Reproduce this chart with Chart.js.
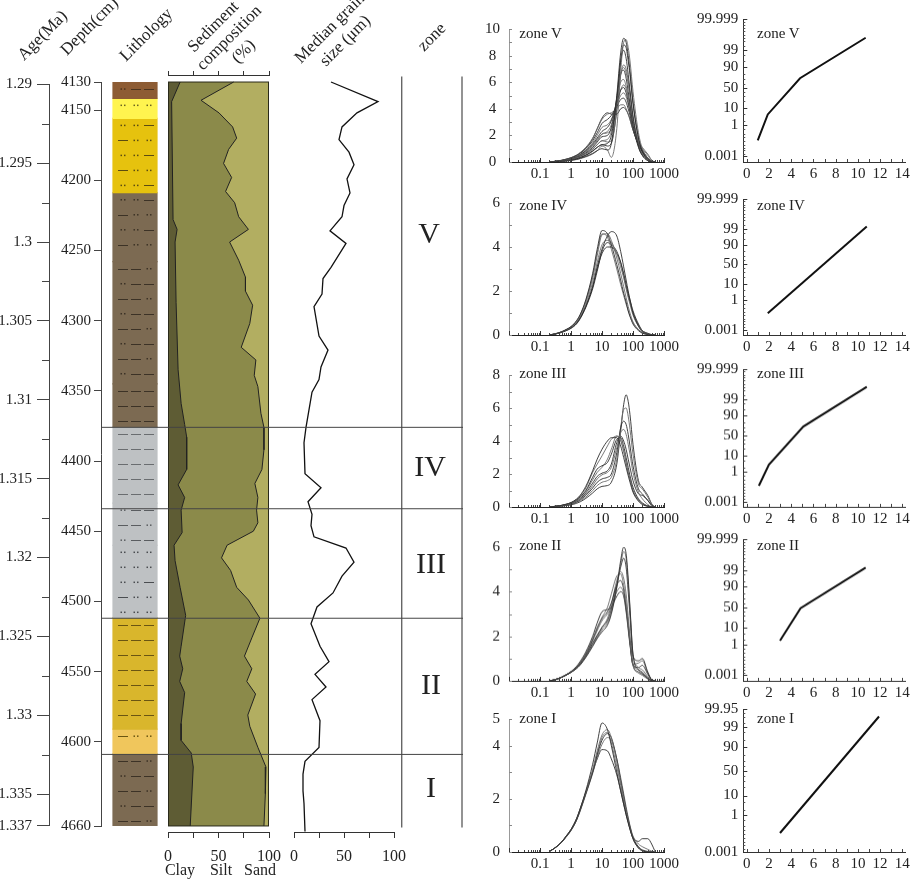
<!DOCTYPE html>
<html>
<head>
<meta charset="utf-8">
<script src="https://cdn.jsdelivr.net/npm/chart.js@4.4.1/dist/chart.umd.min.js"></script>
<style>
  html, body { margin: 0; padding: 0; background: #fff; }
  #page { position: relative; width: 913px; height: 880px; overflow: hidden;
          font-family: "Liberation Serif", "Times New Roman", serif; color: #222; }
  canvas { position: absolute; }
  .t { position: absolute; white-space: nowrap; line-height: 1; }
  .rot { transform-origin: 0 100%; transform: rotate(-45deg); font-size: 17px; }
  .zone { font-size: 30px; transform: translate(-50%, -50%); }
  .panel { font-size: 15px; transform: translateY(-50%); }
  .foot { font-size: 16px; transform: translate(-50%, -50%); }
</style>
</head>
<body>
<div id="page"></div>
<script>
// ---------- data ----------
const ageTicks = [1.29, 1.295, 1.3, 1.305, 1.31, 1.315, 1.32, 1.325, 1.33, 1.335, 1.337];
const ageMinor = [1.2925, 1.2975, 1.3025, 1.3075, 1.3125, 1.3175, 1.3225, 1.3275, 1.3325];
const depthTicks = [4130, 4150, 4200, 4250, 4300, 4350, 4400, 4450, 4500, 4550, 4600, 4660];

const lithTop    = [4130, 4141.6, 4155.9, 4208.9, 4258, 4345, 4375.6, 4430, 4460, 4511.6, 4591, 4608.7];
const lithBottom = [4141.6, 4155.9, 4208.9, 4258, 4345, 4375.6, 4430, 4460, 4511.6, 4591, 4608.7, 4660];
const lithType   = ['A', 'B', 'C', 'D', 'E', 'F', 'G', 'H', 'I', 'J', 'K', 'E'];

const clayDepth = [4130, 4144, 4228, 4235, 4244, 4287, 4335, 4359, 4374, 4383, 4406, 4417, 4426, 4435, 4451,
  4460, 4471, 4490, 4510, 4532, 4539, 4548, 4557, 4565, 4587, 4599, 4608, 4618, 4660];
const clayPct = [12, 3.6, 5, 9, 7, 8, 10, 13, 16.5, 18.5, 18.5, 10, 16.5, 13, 14,
  6, 7, 12, 17.5, 13, 11.6, 14.6, 11.6, 16.5, 13, 13, 23, 25, 22];

const siltDepth = [4130, 4143, 4152, 4162, 4170, 4178, 4188, 4198, 4208, 4216, 4226, 4235, 4244, 4257, 4269, 4279,
  4289, 4302, 4319, 4328, 4339, 4347, 4366, 4376, 4392, 4406, 4416, 4426, 4435, 4444, 4450, 4460, 4469, 4478,
  4490, 4499, 4512, 4526, 4539, 4548, 4557, 4566, 4581, 4589, 4604, 4618, 4637, 4660];
const claySiltPct = [65, 32.7, 50.5, 64, 68, 60, 55, 63, 57, 66, 70, 79.6, 61, 70, 76.7, 76.7,
  83.8, 81, 72.5, 87, 85.4, 89, 92, 95, 95, 93, 86, 89, 87.7, 89, 84.5, 58.5, 53, 62,
  68, 79.6, 91, 83, 75.7, 83, 78, 86.7, 79, 81, 89, 97, 96.4, 95];
const sandDepth = [4130, 4660];
const sandPct = [100, 100];

const grainDepth = [4130, 4144, 4152, 4162, 4171, 4180, 4189, 4199, 4209, 4218, 4226, 4236, 4245, 4262, 4270, 4281,
  4290, 4311, 4321, 4333, 4342, 4351, 4376, 4387, 4409, 4419, 4429, 4438, 4446, 4454, 4462, 4472, 4482, 4494,
  4504, 4516, 4532, 4543, 4552, 4561, 4570, 4585, 4604, 4614, 4623, 4635, 4644, 4664];
const grainSize = [37, 84, 63, 48, 45, 55, 60, 53, 56, 50, 48, 36, 52, 37, 29, 28,
  20, 25, 34, 27, 25, 18, 12, 10, 11, 27, 14, 18, 17, 20, 52, 60, 48, 39,
  23, 17, 26, 35, 21, 32, 18, 26, 25, 11, 9, 9, 10, 11];

const zoneBounds = [4376, 4434, 4512, 4609];
const zoneColumnDepth = [4126, 4661];
const zoneNames = ['V', 'IV', 'III', 'II', 'I'];

// grain size distributions (um vs %)
const sizeGrid = [0.2, 0.3, 0.5, 0.7, 1, 1.5, 2, 3, 5, 7, 10, 15, 20, 30, 40, 50, 60, 70, 80, 100, 150, 200, 300, 400, 500];
const freqV = [
  [0, .02, .05, .08, .12, .2, .28, .42, .65, .85, 1.0, 0.9, 1.4, 5.0, 8.2, 9.3, 9.0, 8.0, 6.8, 4.5, 1.8, 0.8, 0.2, .03, 0],
  [0, .02, .05, .08, .12, .18, .25, .38, .6, .85, 1.2, 0.9, 0.35, 2.5, 6.8, 9.0, 9.2, 8.6, 7.6, 5.3, 2.2, 1.0, 0.3, .05, 0],
  [0, .02, .06, .1, .15, .24, .33, .5, .8, 1.1, 1.3, 1.4, 2.0, 4.8, 7.6, 8.4, 7.8, 6.6, 5.4, 3.4, 1.2, 0.5, 0.1, 0, 0],
  [0, .03, .07, .12, .18, .3, .4, .6, .95, 1.3, 1.6, 1.7, 2.3, 4.6, 6.6, 7.1, 6.7, 5.8, 4.9, 3.2, 1.3, 0.6, .15, .02, 0],
  [0, .03, .08, .13, .2, .33, .45, .68, 1.1, 1.5, 1.9, 2.0, 2.6, 4.8, 6.6, 6.9, 6.3, 5.3, 4.4, 2.8, 1.1, 0.5, 0.1, 0, 0],
  [0, .03, .08, .14, .22, .36, .5, .75, 1.2, 1.6, 2.1, 2.3, 2.8, 4.6, 6.0, 6.2, 5.7, 4.9, 4.1, 2.7, 1.2, 0.6, 0.2, .04, 0],
  [0, .04, .1, .16, .25, .4, .55, .85, 1.35, 1.8, 2.3, 2.6, 3.1, 4.5, 5.4, 5.6, 5.2, 4.5, 3.8, 2.6, 1.3, 0.8, 0.3, .05, 0],
  [0, .04, .1, .17, .26, .42, .58, .9, 1.45, 2.0, 2.6, 2.8, 3.2, 4.3, 5.0, 5.2, 4.9, 4.3, 3.7, 2.6, 1.4, 1.0, 0.5, 0.1, 0],
  [0, .05, .12, .2, .3, .48, .65, 1.0, 1.6, 2.2, 2.9, 3.2, 3.5, 4.2, 4.7, 4.8, 4.5, 4.0, 3.5, 2.5, 1.3, 0.8, 0.3, .05, 0],
  [0, .05, .13, .22, .33, .52, .72, 1.1, 1.8, 2.5, 3.2, 3.6, 3.7, 4.0, 4.3, 4.3, 4.0, 3.6, 3.2, 2.4, 1.3, 0.7, 0.2, .03, 0],
  [0, .05, .13, .21, .32, .5, .7, 1.05, 1.75, 2.5, 3.3, 3.7, 3.6, 3.6, 4.0, 4.1, 3.9, 3.6, 3.2, 2.4, 1.4, 0.9, 0.3, .05, 0],
  [0, .03, .07, .12, .18, .3, .42, .62, 1.0, 1.3, 1.6, 1.5, 1.6, 3.8, 6.5, 7.3, 7.0, 6.1, 5.2, 3.5, 1.5, 0.7, 0.2, .03, 0],
  [0, .02, .06, .1, .15, .25, .35, .52, .85, 1.1, 1.3, 1.2, 1.4, 4.0, 7.5, 8.8, 8.6, 7.6, 6.6, 4.4, 1.8, 0.8, 0.2, .03, 0],
  [0, .04, .09, .15, .23, .37, .52, .8, 1.25, 1.7, 2.1, 2.2, 2.5, 4.1, 5.4, 5.8, 5.5, 4.8, 4.2, 3.0, 1.6, 1.1, 0.6, .15, 0]
];
const freqIV = [
  [0, .05, .15, .25, .38, .65, .95, 1.6, 2.8, 3.9, 4.75, 4.6, 4.1, 3.2, 2.5, 1.9, 1.5, 1.1, .85, .5, .2, .08, .02, 0, 0],
  [0, .05, .14, .24, .36, .6, .9, 1.5, 2.6, 3.6, 4.55, 4.6, 4.3, 3.5, 2.8, 2.2, 1.7, 1.3, 1.0, .6, .25, .1, .03, 0, 0],
  [0, .04, .12, .2, .32, .52, .78, 1.3, 2.2, 3.1, 3.9, 4.5, 4.7, 4.5, 3.8, 3.1, 2.5, 2.0, 1.6, 1.0, .4, .15, .04, .01, 0],
  [0, .05, .14, .23, .35, .58, .85, 1.4, 2.4, 3.3, 4.1, 4.3, 4.2, 3.7, 3.1, 2.6, 2.1, 1.7, 1.4, .9, .4, .18, .05, .01, 0],
  [0, .04, .13, .22, .34, .55, .8, 1.3, 2.2, 3.0, 3.7, 4.0, 4.0, 3.7, 3.3, 2.8, 2.3, 1.9, 1.6, 1.1, .5, .2, .06, .01, 0],
  [0, .05, .15, .25, .38, .63, .92, 1.55, 2.7, 3.75, 4.6, 4.45, 3.9, 3.0, 2.3, 1.8, 1.4, 1.1, .85, .55, .25, .12, .04, .01, 0],
  [0, .04, .12, .2, .3, .5, .75, 1.25, 2.1, 2.9, 3.8, 4.2, 4.1, 3.8, 3.3, 2.7, 2.2, 1.8, 1.5, 1.0, .45, .2, .08, .02, 0]
];
const freqIII = [
  [0, .04, .1, .17, .27, .48, .72, 1.25, 2.2, 2.9, 3.5, 4.0, 4.2, 4.2, 3.7, 3.0, 2.4, 1.9, 1.5, .9, .35, .15, .04, 0, 0],
  [0, .04, .1, .17, .26, .45, .68, 1.15, 2.1, 2.6, 3.1, 3.7, 4.1, 4.3, 4.0, 3.4, 2.7, 2.1, 1.7, 1.0, .4, .2, .05, 0, 0],
  [0, .04, .1, .16, .25, .42, .62, 1.0, 1.8, 2.3, 2.5, 2.7, 3.2, 4.1, 4.2, 3.7, 3.0, 2.4, 1.9, 1.2, .5, .25, .06, 0, 0],
  [0, .03, .08, .13, .2, .33, .48, .75, 1.3, 1.7, 1.95, 2.1, 2.4, 3.6, 4.5, 4.7, 4.4, 3.8, 3.2, 2.1, .9, .5, .15, .02, 0],
  [0, .03, .07, .12, .18, .3, .44, .7, 1.15, 1.5, 1.7, 1.8, 2.0, 3.3, 4.8, 5.2, 5.0, 4.4, 3.7, 2.5, 1.1, .8, .4, .1, 0],
  [0, .02, .06, .1, .15, .26, .38, .6, 1.0, 1.3, 1.5, 1.6, 1.8, 2.9, 4.8, 5.9, 6.0, 5.5, 4.7, 3.2, 1.4, 1.1, .6, .15, 0],
  [0, .02, .05, .09, .13, .22, .32, .52, .85, 1.1, 1.25, 1.3, 1.5, 2.6, 4.6, 6.2, 6.8, 6.4, 5.6, 3.8, 1.6, 1.2, .7, .2, 0],
  [0, .03, .09, .15, .23, .4, .58, .95, 1.65, 2.1, 2.4, 2.9, 3.5, 4.3, 4.1, 3.4, 2.7, 2.1, 1.7, 1.0, .45, .2, .05, 0, 0],
  [0, .03, .08, .14, .21, .36, .52, .85, 1.45, 1.85, 2.05, 2.2, 2.6, 3.9, 4.3, 4.0, 3.5, 2.9, 2.4, 1.6, .8, .7, .4, .1, 0]
];
const freqII = [
  [0, .05, .16, .26, .38, .55, .72, 1.05, 1.55, 1.9, 2.2, 2.5, 3.0, 4.2, 5.4, 6.0, 5.7, 4.6, 3.3, 1.2, .5, .35, .12, .02, 0],
  [0, .05, .16, .26, .38, .56, .74, 1.08, 1.6, 1.95, 2.3, 2.6, 3.1, 4.2, 5.2, 5.8, 5.5, 4.4, 3.2, 1.2, .6, .5, .2, .03, 0],
  [0, .05, .16, .26, .39, .58, .77, 1.12, 1.7, 2.05, 2.4, 2.7, 3.2, 4.3, 5.1, 5.5, 5.1, 4.0, 2.9, 1.1, .9, 1.0, .4, .05, 0],
  [0, .05, .17, .28, .41, .63, .85, 1.25, 1.9, 2.4, 2.85, 3.3, 3.9, 4.7, 4.8, 4.3, 3.5, 2.6, 1.8, .7, .35, .25, .08, 0, 0],
  [0, .05, .17, .28, .41, .62, .84, 1.22, 1.85, 2.35, 2.8, 3.1, 3.5, 4.3, 4.5, 4.1, 3.3, 2.5, 1.7, .7, .6, .7, .3, .05, 0],
  [0, .05, .16, .27, .4, .6, .8, 1.18, 1.8, 2.25, 2.7, 3.0, 3.3, 4.0, 4.2, 3.9, 3.2, 2.4, 1.7, .75, .8, .9, .35, .05, 0],
  [0, .05, .17, .28, .42, .65, .88, 1.3, 2.0, 2.6, 3.1, 3.2, 3.3, 3.8, 4.0, 3.8, 3.1, 2.3, 1.6, .7, .4, .3, .1, 0, 0],
  [0, .05, .16, .26, .39, .57, .76, 1.1, 1.65, 2.0, 2.4, 2.8, 3.4, 4.5, 4.9, 4.6, 3.9, 2.9, 2.0, .8, .5, .4, .15, .02, 0]
];
const freqI = [
  [.02, .15, .38, .6, .85, 1.25, 1.65, 2.3, 3.3, 4.1, 4.85, 4.6, 4.0, 3.0, 2.3, 1.8, 1.4, 1.1, .85, .5, .15, .05, 0, 0, 0],
  [.02, .15, .38, .6, .85, 1.25, 1.65, 2.25, 3.1, 3.8, 4.4, 4.6, 4.3, 3.4, 2.6, 2.0, 1.55, 1.2, .9, .5, .15, .05, 0, 0, 0],
  [.02, .15, .37, .58, .82, 1.2, 1.6, 2.2, 3.0, 3.65, 4.2, 4.45, 4.3, 3.5, 2.7, 2.1, 1.6, 1.25, .95, .55, .2, .08, .02, 0, 0],
  [.02, .14, .36, .56, .8, 1.18, 1.55, 2.15, 2.95, 3.55, 4.05, 4.3, 4.2, 3.5, 2.8, 2.2, 1.7, 1.3, 1.0, .6, .3, .2, .1, .03, 0],
  [.02, .15, .37, .58, .82, 1.2, 1.58, 2.2, 3.0, 3.5, 3.85, 3.8, 3.5, 2.9, 2.3, 1.8, 1.4, 1.1, .85, .55, .4, .5, .5, .3, .05],
  [.02, .15, .38, .6, .84, 1.23, 1.62, 2.25, 3.05, 3.7, 4.3, 4.5, 4.1, 3.2, 2.5, 1.9, 1.5, 1.15, .9, .5, .18, .06, .01, 0, 0]
];
const freqMax = [10, 6, 8, 6, 5];
const freqTickVals = [[0, 2, 4, 6, 8, 10], [0, 2, 4, 6], [0, 2, 4, 6, 8], [0, 2, 4, 6], [0, 2, 4, 5]];
const sizeTickVals = [0.1, 1, 10, 100, 1000];

// cumulative probability curves (phi vs cumulative %)
const phiV = [1.0, 1.9, 4.8, 10.7],  cumV = [0.054, 4.87, 72.2, 99.904];
const phiIV = [1.9, 10.8],           cumIV = [0.069, 99.33];
const phiIII = [1.1, 2.0, 5.1, 10.8], cumIII = [0.057, 2.92, 71.5, 99.909];
const phiII = [3.0, 4.85, 10.7],     cumII = [1.84, 47.6, 99.34];
const phiI = [3.0, 11.9],            cumI = [0.0557, 99.81];
const probTicks = ['0.001', '1', '10', '50', '90', '99', '99.999'];
const probTicksI = ['0.001', '1', '10', '50', '90', '99', '99.95'];
const probMinor = [0.002, 0.005, 0.01, 0.02, 0.05, 0.1, 0.2, 0.5, 2, 5, 20, 30, 40, 60, 70, 80, 95, 98, 99.5, 99.8, 99.9, 99.95, 99.98, 99.99, 99.995, 99.998];
const probMin = [0.0002, 0.0002, 0.0002, 0.0002, 0.001];
const probMax = [99.999, 99.999, 99.999, 99.999, 99.95];
const phiTicks = [0, 2, 4, 6, 8, 10, 12, 14];

// ---------- styles ----------
const clayColor = '#5e5c34', siltColor = '#8b8a4a', sandColor = '#b2ae61';
const lithStyle = {
  A: { fill: '#8d5c34', ink: '#4a3420', rows: ['d--'] },
  B: { fill: '#fff44f', ink: '#6b6420', rows: ['ddd'] },
  C: { fill: '#e6c20e', ink: '#5c4c10', rows: ['dd-', '-dd'] },
  D: { fill: '#7c6a52', ink: '#3c3226', rows: ['dd-', '-dd'] },
  E: { fill: '#7c6a52', ink: '#3c3226', rows: ['--d', 'd--'] },
  F: { fill: '#7c6a52', ink: '#3c3226', rows: ['---'] },
  G: { fill: '#bec1c3', ink: '#6a6d70', rows: ['---'] },
  H: { fill: '#bec1c3', ink: '#5a5d60', rows: ['d--', '--d'] },
  I: { fill: '#bec1c3', ink: '#4a4d50', rows: ['ddd', 'ddd', 'dd-', '-dd'] },
  J: { fill: '#d9b62c', ink: '#6a5512', rows: ['---'] },
  K: { fill: '#f0c65c', ink: '#6a5512', rows: ['-dd'] }
};

// ---------- helpers ----------
Chart.defaults.font.family = "'Liberation Serif', 'Times New Roman', serif";
Chart.defaults.font.size = 15;
Chart.defaults.color = '#222';

const page = document.getElementById('page');
let canvasCount = 0;
function makeCanvas(left, top, width, height) {
  const c = document.createElement('canvas');
  c.id = 'c' + (canvasCount++);
  c.style.left = left + 'px'; c.style.top = top + 'px';
  c.style.width = width + 'px'; c.style.height = height + 'px';
  c.width = width; c.height = height;
  page.appendChild(c);
  return c;
}
function addText(cls, text, x, y) {
  const d = document.createElement('div');
  d.className = 't ' + cls;
  d.textContent = text;
  d.style.left = x + 'px'; d.style.top = y + 'px';
  page.appendChild(d);
}
const fix = (w, h) => s => { if (w != null) s.width = w; if (h != null) s.height = h; };
const setTicks = vals => s => { s.ticks = vals.map(v => ({ value: +v })); };
function base(pad) {
  return { responsive: false, animation: false, events: [], layout: { padding: pad },
    plugins: { legend: { display: false }, tooltip: { enabled: false } } };
}

// tick marks drawn through the scales (minor ticks / inward ticks)
const marksFor = {};
const tickMarks = {
  id: 'tickMarks',
  afterDraw(chart) {
    const sets = marksFor[chart.canvas.id] || [];
    const ctx = chart.ctx, area = chart.chartArea;
    ctx.save();
    sets.forEach(m => {
      const sc = chart.scales[m.axis];
      ctx.strokeStyle = m.color || '#333';
      ctx.lineWidth = 1;
      ctx.beginPath();
      m.values.forEach(v => {
        const p = Math.round(sc.getPixelForValue(v)) + 0.5;
        if (sc.isHorizontal()) {
          const y0 = sc.position === 'top' ? area.top : area.bottom;
          const dir = sc.position === 'top' ? 1 : -1;
          ctx.moveTo(p, y0); ctx.lineTo(p, y0 + dir * m.len);
        } else {
          const x0 = sc.position === 'right' ? area.right : area.left;
          const dir = sc.position === 'right' ? -1 : 1;
          ctx.moveTo(x0, p); ctx.lineTo(x0 + dir * m.len, p);
        }
      });
      ctx.stroke();
    });
    ctx.restore();
  }
};

// normal probability axis
function probit(p) {
  const a = [-39.69683028665376, 220.9460984245205, -275.9285104469687, 138.357751867269, -30.66479806614716, 2.506628277459239];
  const b = [-54.47609879822406, 161.5858368580409, -155.6989798598866, 66.80131188771972, -13.28068155288572];
  const c = [-0.007784894002430293, -0.3223964580411365, -2.400758277161838, -2.549732539343734, 4.374664141464968, 2.938163982698783];
  const d = [0.007784695709041462, 0.3224671290700398, 2.445134137142996, 3.754408661907416];
  const pl = 0.02425;
  if (p < pl) {
    const q = Math.sqrt(-2 * Math.log(p));
    return (((((c[0]*q+c[1])*q+c[2])*q+c[3])*q+c[4])*q+c[5]) / ((((d[0]*q+d[1])*q+d[2])*q+d[3])*q+1);
  }
  if (p > 1 - pl) {
    const q = Math.sqrt(-2 * Math.log(1 - p));
    return -(((((c[0]*q+c[1])*q+c[2])*q+c[3])*q+c[4])*q+c[5]) / ((((d[0]*q+d[1])*q+d[2])*q+d[3])*q+1);
  }
  const q = p - 0.5, r = q * q;
  return (((((a[0]*r+a[1])*r+a[2])*r+a[3])*r+a[4])*r+a[5])*q / (((((b[0]*r+b[1])*r+b[2])*r+b[3])*r+b[4])*r+1);
}
function normCdf(z) {
  const t = 1 / (1 + 0.3275911 * Math.abs(z) / Math.SQRT2);
  const y = 1 - (((((1.061405429*t - 1.453152027)*t) + 1.421413741)*t - 0.284496736)*t + 0.254829592)*t * Math.exp(-z*z/2);
  return z >= 0 ? (1 + y) / 2 : (1 - y) / 2;
}
class ProbabilityScale extends Chart.Scale {
  static id = 'probability';
  static defaults = {};
  parse(raw) { return +raw; }
  determineDataLimits() { this.min = this.options.min; this.max = this.options.max; }
  buildTicks() { return []; }
  getLabelForValue(v) { return String(v); }
  configure() {
    super.configure();
    this._z0 = probit(this.min / 100);
    this._z1 = probit(this.max / 100);
  }
  getPixelForValue(v) {
    return this.getPixelForDecimal((probit(v / 100) - this._z0) / (this._z1 - this._z0));
  }
  getValueForPixel(p) {
    return 100 * normCdf(this._z0 + this.getDecimalForPixel(p) * (this._z1 - this._z0));
  }
}
Chart.register(ProbabilityScale);

// ---------- age axis ----------
{
  const cv = makeCanvas(0, 0, 60, 880);
  marksFor[cv.id] = [{ axis: 'y', values: ageMinor, len: -7, color: '#444' }];
  new Chart(cv, {
    type: 'scatter', data: { datasets: [] },
    options: { ...base({ top: 84.3, bottom: 54.3, left: 0, right: 5 }),
      scales: {
        x: { display: false, min: 0, max: 1 },
        y: { reverse: true, min: 1.29, max: 1.337, afterFit: fix(49), afterBuildTicks: setTicks(ageTicks),
             ticks: { callback: (v, i) => String(ageTicks[i]), padding: 5, autoSkip: false },
             grid: { drawOnChartArea: false, tickLength: 12, color: '#444' }, border: { color: '#444' } }
      } },
    plugins: [tickMarks]
  });
}

// ---------- depth axis + lithology ----------
const lithPatterns = {
  id: 'lithPatterns',
  afterDatasetsDraw(chart) {
    const ctx = chart.ctx, y = chart.scales.y;
    ctx.save();
    lithTop.forEach((t, i) => {
      const bar = chart.getDatasetMeta(i).data[0];
      const left = bar.x - bar.width / 2;
      const top = y.getPixelForValue(t), bot = y.getPixelForValue(lithBottom[i]);
      const st = lithStyle[lithType[i]];
      ctx.fillStyle = st.ink;
      let r = 0;
      for (let py = top + 7; py < bot - 3; py += 15, r++) {
        const row = st.rows[r % st.rows.length];
        [...row].forEach((ch, k) => {
          const cx = left + [10, 23, 36][k];
          if (ch === '-') ctx.fillRect(cx - 5, Math.round(py), 10, 1);
          else { ctx.fillRect(cx - 2.5, py - 0.7, 1.5, 1.5); ctx.fillRect(cx + 1, py - 0.7, 1.5, 1.5); }
        });
      }
    });
    ctx.restore();
  }
};
new Chart(makeCanvas(50, 0, 125, 880), {
  type: 'bar',
  data: { labels: ['lithology'], datasets: lithTop.map((t, i) => ({
    data: [[t, lithBottom[i]]], backgroundColor: lithStyle[lithType[i]].fill, borderWidth: 0,
    inflateAmount: 0.6, grouped: false, barPercentage: 44 / 68, categoryPercentage: 1 })) },
  options: { ...base({ top: 82, bottom: 54, left: 0, right: 6 }),
    scales: {
      x: { display: false },
      y: { reverse: true, min: 4130, max: 4660, afterFit: fix(51), afterBuildTicks: setTicks(depthTicks),
           ticks: { callback: (v, i) => String(depthTicks[i]), padding: 3, autoSkip: false },
           grid: { drawOnChartArea: false, tickLength: 7, color: '#444' }, border: { color: '#444' } }
    } },
  plugins: [lithPatterns]
});

// ---------- sediment composition ----------
const pctTicks = [0, 25, 50, 75, 100];
const boxOutline = {
  id: 'boxOutline',
  afterDatasetsDraw(chart) {
    const { x, y } = chart.scales, ctx = chart.ctx;
    const l = x.getPixelForValue(0), r = x.getPixelForValue(100);
    const t = y.getPixelForValue(sandDepth[0]), b = y.getPixelForValue(sandDepth[1]);
    ctx.save(); ctx.strokeStyle = '#2a2a1a'; ctx.lineWidth = 1;
    ctx.strokeRect(l + 0.5, t, r - l - 1, b - t); ctx.restore();
  }
};
const pctAxis = (pos, h) => ({
  type: 'linear', position: pos, min: 0, max: 100, afterFit: fix(null, h), afterBuildTicks: setTicks(pctTicks),
  ticks: pos === 'top' ? { display: false } : { callback: v => (v % 50 === 0 ? String(v) : ''), padding: 9,
    autoSkip: false, maxRotation: 0, font: { size: 16 } },
  grid: { drawOnChartArea: false, tickLength: pos === 'top' ? 4 : 6, color: '#333' }, border: { color: '#333' }
});
const depthAxis = { type: 'linear', display: false, reverse: true, min: 4125, max: 4664.3 };
const toLeft = { value: 0 };
new Chart(makeCanvas(148, 65, 142, 797), {
  type: 'line',
  data: { datasets: [
    { data: clayDepth.map((d, i) => ({ x: clayPct[i], y: d })), backgroundColor: clayColor, fill: toLeft, borderColor: '#222', borderWidth: 1 },
    { data: siltDepth.map((d, i) => ({ x: claySiltPct[i], y: d })), backgroundColor: siltColor, fill: toLeft, borderColor: '#222', borderWidth: 1 },
    { data: sandDepth.map((d, i) => ({ x: sandPct[i], y: d })), backgroundColor: sandColor, fill: toLeft, borderWidth: 0 }
  ] },
  options: { ...base({ left: 20, right: 19, top: 0, bottom: 0 }), indexAxis: 'y',
    elements: { point: { radius: 0 }, line: { tension: 0 } },
    scales: { x: pctAxis('bottom', 30), xTop: pctAxis('top', 10), y: depthAxis } },
  plugins: [boxOutline]
});

// ---------- median grain size ----------
new Chart(makeCanvas(280, 75, 135, 787), {
  type: 'line',
  data: { datasets: [{ data: grainDepth.map((d, i) => ({ x: grainSize[i], y: d })),
    borderColor: '#111', borderWidth: 1.3, pointRadius: 0, fill: false, tension: 0 }] },
  options: { ...base({ left: 14, right: 16, top: 0, bottom: 0 }), indexAxis: 'y',
    scales: { x: pctAxis('bottom', 30), y: depthAxis } }
});

// ---------- zone column ----------
new Chart(makeCanvas(400, 0, 64, 880), {
  type: 'scatter',
  data: { datasets: [0, 1].map(side => ({
    data: zoneColumnDepth.map(d => ({ x: side, y: d })), showLine: true, clip: false,
    borderColor: '#666', borderWidth: 1.4, pointRadius: 0 })) },
  options: { ...base({ top: 82, bottom: 54, left: 1.7, right: 2 }),
    scales: { x: { display: false, min: 0, max: 1 }, y: { display: false, reverse: true, min: 4130, max: 4660 } } }
});
new Chart(makeCanvas(101, 0, 362, 880), {
  type: 'scatter',
  data: { datasets: zoneBounds.map(b => ({ data: [{ x: 0, y: b }, { x: 1, y: b }], showLine: true, clip: false,
    borderColor: '#444', borderWidth: 1, pointRadius: 0 })) },
  options: { ...base({ top: 82, bottom: 54, left: 0, right: 0 }),
    scales: { x: { display: false, min: 0, max: 1 }, y: { display: false, reverse: true, min: 4130, max: 4660 } } }
});

// ---------- right-hand panels ----------
const ROWS = [
  { fTop: 20.7, fBot: 162.3, pTop: 15, pBot: 162.3, label: 33.3 },
  { fTop: 195, fBot: 335, pTop: 195, pBot: 335, label: 205 },
  { fTop: 366.7, fBot: 506.7, pTop: 365, pBot: 506.7, label: 373.3 },
  { fTop: 539.3, fBot: 680.7, pTop: 535, pBot: 680.7, label: 545 },
  { fTop: 710.7, fBot: 852.3, pTop: 705, pBot: 852.3, label: 718.3 }
];
const freqSets = [freqV, freqIV, freqIII, freqII, freqI];
const phiSets = [phiV, phiIV, phiIII, phiII, phiI];
const cumSets = [cumV, cumIV, cumIII, cumII, cumI];
const probTickSets = [probTicks, probTicks, probTicks, probTicks, probTicksI];
const sizeMinor = [];
[0.01, 0.1, 1, 10, 100].forEach(dec => { for (let k = 2; k <= 9; k++) sizeMinor.push(dec * k); });

ROWS.forEach((row, z) => {
  // frequency curves
  const fc = makeCanvas(480, row.fTop - 10, 206, 10 + (row.fBot - row.fTop) + 25);
  const yInts = [];
  for (let v = 0; v <= freqMax[z]; v++) yInts.push(v);
  marksFor[fc.id] = [
    { axis: 'x', values: sizeMinor, len: 2, color: '#444' },
    { axis: 'x', values: [0.01, ...sizeTickVals], len: 4, color: '#333' },
    { axis: 'y', values: yInts, len: 3, color: '#888' }
  ];
  new Chart(fc, {
    type: 'scatter',
    data: { datasets: freqSets[z].map((curve, i) => ({
      data: sizeGrid.map((s, k) => ({ x: s, y: curve[k] })), showLine: true, pointRadius: 0,
      borderColor: i % 2 ? '#6a6a6a' : '#2e2e2e', borderWidth: 0.9, cubicInterpolationMode: 'monotone' })) },
    options: { ...base({ top: 10, bottom: 0, left: 0, right: 22 }),
      scales: {
        x: { type: 'logarithmic', min: 0.01, max: 1000, afterFit: fix(null, 25), afterBuildTicks: setTicks(sizeTickVals),
             ticks: { callback: v => String(v), padding: 3, autoSkip: false, maxRotation: 0 },
             grid: { drawOnChartArea: false, drawTicks: false }, border: { color: '#222' } },
        y: { min: 0, max: freqMax[z], afterFit: fix(29), afterBuildTicks: setTicks(freqTickVals[z]),
             ticks: { callback: v => String(v), padding: 9, crossAlign: 'center', autoSkip: false },
             grid: { drawOnChartArea: false, drawTicks: false }, border: { color: '#999' } }
      } },
    plugins: [tickMarks]
  });
  addText('panel', 'zone ' + zoneNames[z], 519.3, row.label);

  // cumulative probability
  const pc = makeCanvas(690, row.pTop - 10, 223, 10 + (row.pBot - row.pTop) + 25);
  const phiMinor = [];
  for (let v = 0; v <= 14; v++) phiMinor.push(v);
  marksFor[pc.id] = [
    { axis: 'x', values: phiMinor, len: 3, color: '#444' },
    { axis: 'y', values: probMinor.filter(v => v < probMax[z]), len: 2, color: '#555' },
    { axis: 'y', values: probTickSets[z].map(Number), len: 4, color: '#333' }
  ];
  new Chart(pc, {
    type: 'scatter',
    data: { datasets: [{ data: phiSets[z].map((p, k) => ({ x: p, y: cumSets[z][k] })), showLine: true,
      pointRadius: 0, borderColor: '#111', borderWidth: 2, tension: 0 }] },
    options: { ...base({ top: 10, bottom: 0, left: 0, right: 6.3 }),
      scales: {
        x: { type: 'linear', min: -0.3, max: 14.3, afterFit: fix(null, 25), afterBuildTicks: setTicks(phiTicks),
             ticks: { callback: v => String(v), padding: 3, autoSkip: false, maxRotation: 0 },
             grid: { drawOnChartArea: false, drawTicks: false }, border: { color: '#333' } },
        y: { type: 'probability', min: probMin[z], max: probMax[z], afterFit: fix(53.3),
             afterBuildTicks: setTicks(probTickSets[z]),
             ticks: { callback: (v, i) => probTickSets[z][i], padding: 5, autoSkip: false },
             grid: { drawOnChartArea: false, drawTicks: false }, border: { color: '#333' } }
      } },
    plugins: [tickMarks]
  });
  addText('panel', 'zone ' + zoneNames[z], 757, row.label);
});

// ---------- texts ----------
const headers = [
  ['Age(Ma)', 26, 63], ['Depth(cm)', 69, 58], ['Lithology', 128, 64],
  ['Sediment', 196, 55], ['composition', 205, 73], ['(%)', 240, 66],
  ['Median grain', 303, 66], ['size (\u03bcm)', 328, 69], ['zone', 426, 54]
];
headers.forEach(([txt, x, y]) => addText('rot', txt, x, y - 17));
[['Clay', 180], ['Silt', 221], ['Sand', 260]].forEach(([txt, x]) => addText('foot', txt, x, 870));
const zoneLabelPos = [[429, 233], [430, 466], [431, 563], [431, 684], [431, 787]];
zoneNames.forEach((n, i) => addText('zone', n, zoneLabelPos[i][0], zoneLabelPos[i][1]));
</script>
</body>
</html>
